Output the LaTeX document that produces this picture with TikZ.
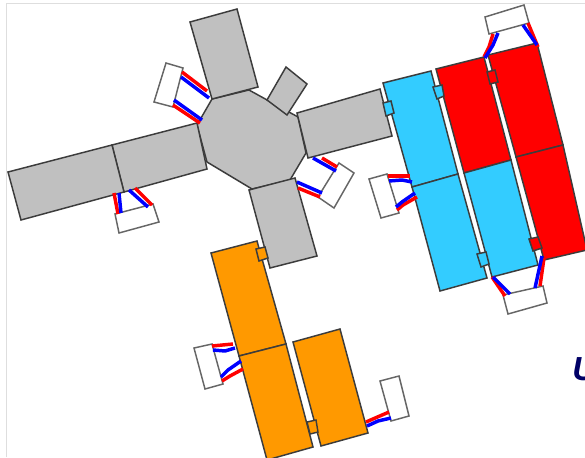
\documentclass[tikz,border=0pt]{standalone}
\usepackage{fontspec}
\setmainfont{Liberation Sans}
\definecolor{pgray}{HTML}{C0C0C0}
\definecolor{pcyan}{HTML}{33CCFF}
\definecolor{porange}{HTML}{FF9900}
\definecolor{pnavy}{HTML}{000066}
\definecolor{pedge}{HTML}{3C3C3C}
\tikzset{
 panel/.style={draw=pedge,line width=1.1pt,line join=miter},
 grayp/.style={panel,fill=pgray},
 cyanp/.style={panel,fill=pcyan},
 redp/.style={panel,fill=red},
 orangep/.style={panel,fill=porange},
 whitebox/.style={draw=black!60,line width=1.1pt,fill=white},
 rw/.style={draw=red,line width=2.6pt,line join=round},
 bw/.style={draw=blue,line width=2.6pt,line join=round},
 frameline/.style={draw=black!13,line width=1.2pt},
}
\begin{document}
\begin{tikzpicture}[x=0.75pt,y=-0.75pt]
\useasboundingbox (0,0) rectangle (585,457);
\clip (0,0) rectangle (585,457);
\fill[white] (0,0) rectangle (585,457);
\draw[frameline] (6.5,457) -- (6.5,3.5) -- (585,3.5);
% gray station
\draw[grayp] (212,99) -- (249,90) -- (298,117) -- (306,153) -- (290,180) -- (252,189) -- (207,162) -- (197,125) -- cycle;
\draw[grayp] (190,22) -- (237,9) -- (258,87) -- (212,99) -- cycle;
\draw[grayp] (286,67) -- (307,84) -- (287,115) -- (267,100) -- cycle;
\draw[grayp] (297,113) -- (380,89) -- (392,136) -- (308,158) -- cycle;
\draw[grayp] (197,123) -- (207,169) -- (124,192) -- (112,145) -- cycle;
\draw[grayp] (112,145) -- (124,192) -- (21,220) -- (8,172) -- cycle;
\draw[grayp] (249,190) -- (295,178) -- (317,256) -- (270,268) -- cycle;
% gray boxes and wires
\draw[whitebox] (166,63) -- (183,68) -- (173,107) -- (154,102) -- cycle;
\draw[rw] (182,72) -- (207,91);
\draw[bw] (181,77) -- (209,98);
\draw[rw] (173,105) -- (200,123);
\draw[bw] (174,100) -- (202,120);
\draw[whitebox] (115,214) -- (153,204) -- (159,222) -- (119,233) -- cycle;
\draw[rw] (114,193) -- (118,214);
\draw[bw] (119,193) -- (121,213);
\draw[rw] (135,188) -- (152,205);
\draw[bw] (129,190) -- (148,207);
\draw[whitebox] (339,163) -- (354,173) -- (334,208) -- (318,197) -- cycle;
\draw[rw] (322,158) -- (337,167);
\draw[bw] (313,158) -- (336,171);
\draw[rw] (298,188) -- (320,197);
\draw[bw] (297,182) -- (322,193);
% cyan and red columns
\draw[cyanp] (383,83) -- (431,71) -- (458,174) -- (412,187) -- cycle;
\draw[cyanp] (412,187) -- (458,174) -- (487,278) -- (440,291) -- cycle;
\draw[redp] (436,69) -- (484,57) -- (511,160) -- (464,173) -- cycle;
\draw[cyanp] (464,173) -- (511,160) -- (538,265) -- (492,277) -- cycle;
\draw[redp] (488,55) -- (537,43) -- (563,145) -- (516,157) -- cycle;
\draw[redp] (516,157) -- (563,145) -- (587,250) -- (544,260) -- cycle;
\draw[cyanp] (383,103) -- (391,101) -- (394,113) -- (386,116) -- cycle;
\draw[cyanp] (433,87) -- (442,85) -- (444,96) -- (437,99) -- cycle;
\draw[redp] (487,72) -- (495,70) -- (498,82) -- (490,84) -- cycle;
\draw[cyanp] (477,254) -- (486,252) -- (489,264) -- (481,267) -- cycle;
\draw[redp] (529,239) -- (538,237) -- (542,248) -- (533,251) -- cycle;
% top box
\draw[whitebox] (485,17) -- (524,5) -- (529,23) -- (489,34) -- cycle;
\draw[rw] (493,34) -- (489,47) -- (484,57);
\draw[bw] (498,33) -- (493,45) -- (485,58);
\draw[rw] (528,23) -- (538,47);
\draw[bw] (523,25) -- (537,45);
% blue-left box
\draw[whitebox] (369,179) -- (387,174) -- (399,213) -- (381,218) -- cycle;
\draw[rw] (388,176) -- (410,176);
\draw[bw] (389,181) -- (402,180) -- (412,182);
\draw[rw] (397,210) -- (403,205) -- (417,197);
\draw[bw] (396,207) -- (402,202) -- (415,193);
% bottom box
\draw[whitebox] (503,295) -- (543,286) -- (547,303) -- (508,314) -- cycle;
\draw[rw] (492,277) -- (505,296);
\draw[bw] (493,277) -- (510,294);
\draw[rw] (544,258) -- (540,286);
\draw[bw] (542,256) -- (535,288);
% orange group
\draw[orangep] (211,253) -- (257,241) -- (286,344) -- (239,356) -- cycle;
\draw[orangep] (239,356) -- (286,344) -- (313,447) -- (267,460) -- cycle;
\draw[orangep] (293,342) -- (340,329) -- (368,433) -- (321,446) -- cycle;
\draw[orangep] (256,249) -- (265,247) -- (268,258) -- (259,261) -- cycle;
\draw[orangep] (307,422) -- (316,420) -- (318,432) -- (310,434) -- cycle;
\draw[whitebox] (194,348) -- (212,344) -- (223,384) -- (205,389) -- cycle;
\draw[rw] (212,346) -- (233,344);
\draw[bw] (213,350) -- (225,351) -- (235,348);
\draw[rw] (222,381) -- (230,376) -- (243,369);
\draw[bw] (221,377) -- (228,370) -- (241,361);
\draw[whitebox] (380,381) -- (399,376) -- (409,416) -- (391,421) -- cycle;
\draw[rw] (366,422) -- (389,412);
\draw[bw] (367,426) -- (378,421) -- (391,418);
\node[anchor=base west,inner sep=0pt,text=pnavy,font=\fontsize{25}{30}\selectfont\bfseries\itshape] (clipped) at (572,380) {U};
\end{tikzpicture}
\end{document}
